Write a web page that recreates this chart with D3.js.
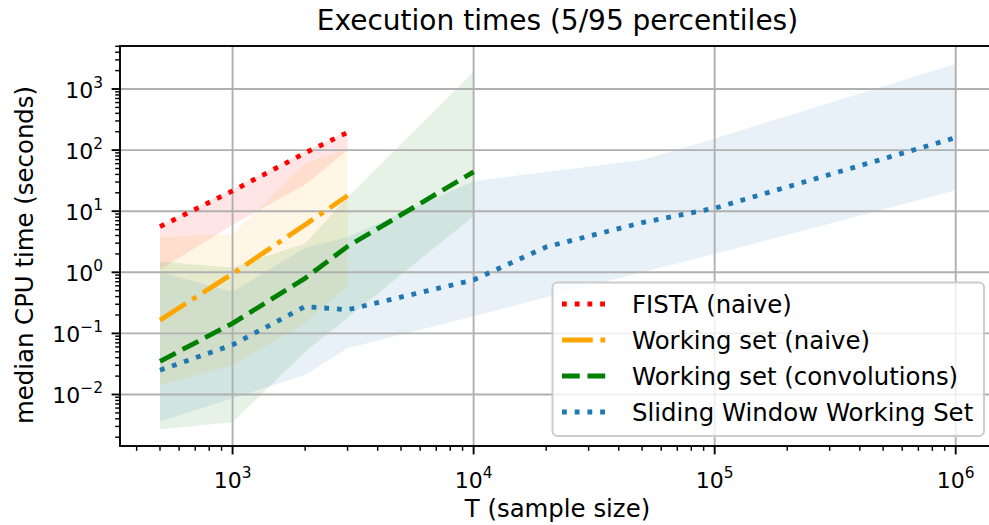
<!DOCTYPE html>
<html><head><meta charset="utf-8">
<script src="https://cdn.jsdelivr.net/npm/d3@7"></script>
<style>
body{margin:0;background:#fff}
svg{display:block;font-family:"DejaVu Sans",sans-serif}
</style>
</head><body>
<svg id="chart" width="989" height="525"></svg>
<script>
// ---- data ----
const fistaT   = [500, 1000, 2000, 3000];
const fistaMed = [5.6, 21.5, 90, 195];
const fistaP95 = [5.9, 23, 95, 205];
const fistaP5  = [1.1, 6, 27, 100];

const wsT   = [500, 1000, 2000, 3000];
const wsMed = [0.165, 0.95, 6.0, 18];
const wsP95 = [3.8, 4.2, 60, 107];
const wsP5  = [0.0143, 0.03, 0.15, 0.6];

const convT   = [500, 1000, 2000, 3000, 10000];
const convMed = [0.035, 0.146, 0.8, 2.65, 44];
const convP95 = [1.5, 1.2, 3.0, 17, 1900];
const convP5  = [0.0027, 0.0035, 0.05, 0.18, 8.3];

const swT   = [500, 1000, 2000, 3000, 10000, 20000, 50000, 100000, 1000000];
const swMed = [0.025, 0.065, 0.275, 0.244, 0.75, 2.6, 6.5, 11.2, 160];
const swP95 = [1.0, 0.48, 2.5, 3.8, 31, 44, 69, 155, 2570];
const swP5  = [0.0036, 0.0087, 0.021, 0.057, 0.19, 0.39, 1.0, 2.0, 22];

const seriesNames = ["FISTA (naive)", "Working set (naive)", "Working set (convolutions)", "Sliding Window Working Set"];
const xTickExps = [3, 4, 5, 6];
const yTickExps = [-2, -1, 0, 1, 2, 3];
const titleText = "Execution times (5/95 percentiles)";
const xLabelText = "T (sample size)";
const yLabelText = "median CPU time (seconds)";

// ---- layout ----
const L = 120, T = 46, R = 995, B = 446;
const svg = d3.select("#chart");
const x = d3.scaleLog().domain([Math.pow(10, 2.533), Math.pow(10, 6.163)]).range([L, R]);
const y = d3.scaleLog().domain([Math.pow(10, -2.843), Math.pow(10, 3.704)]).range([B, T]);

const lw = 4.8;
const series = [
  {name: seriesNames[0], t: fistaT, med: fistaMed, lo: fistaP5, hi: fistaP95, color: "#ff0000", dash: [lw, 1.65*lw]},
  {name: seriesNames[1], t: wsT, med: wsMed, lo: wsP5, hi: wsP95, color: "#ffa500", dash: [6.4*lw, 1.6*lw, 1*lw, 1.6*lw]},
  {name: seriesNames[2], t: convT, med: convMed, lo: convP5, hi: convP95, color: "#008000", dash: [3.7*lw, 1.6*lw]},
  {name: seriesNames[3], t: swT, med: swMed, lo: swP5, hi: swP95, color: "#1f77b4", dash: [lw, 1.65*lw]}
];

svg.append("defs").append("clipPath").attr("id", "plotclip")
  .append("rect").attr("x", L).attr("y", T).attr("width", R - L).attr("height", B - T);

const plot = svg.append("g").attr("clip-path", "url(#plotclip)");

// fills
series.forEach(s => {
  const pts = s.t.map((t, i) => ({t, lo: s.lo[i], hi: s.hi[i]}));
  const area = d3.area().x(d => x(d.t)).y0(d => y(d.lo)).y1(d => y(d.hi));
  plot.append("path").attr("d", area(pts)).attr("fill", s.color).attr("fill-opacity", 0.1);
});

// grid
const gridColor = "#b0b0b0";
xTickExps.forEach(e => {
  plot.append("line").attr("x1", x(Math.pow(10, e))).attr("x2", x(Math.pow(10, e)))
    .attr("y1", T).attr("y2", B).attr("stroke", gridColor).attr("stroke-width", 1.9);
});
yTickExps.forEach(e => {
  plot.append("line").attr("y1", y(Math.pow(10, e))).attr("y2", y(Math.pow(10, e)))
    .attr("x1", L).attr("x2", R).attr("stroke", gridColor).attr("stroke-width", 1.9);
});

// median lines
series.forEach(s => {
  const pts = s.t.map((t, i) => ({t, v: s.med[i]}));
  const line = d3.line().x(d => x(d.t)).y(d => y(d.v));
  plot.append("path").attr("d", line(pts)).attr("fill", "none")
    .attr("stroke", s.color).attr("stroke-width", lw)
    .attr("stroke-dasharray", s.dash.join(",")).attr("stroke-linecap", "butt");
});

// spines
svg.append("rect").attr("x", L).attr("y", T).attr("width", R - L).attr("height", B - T)
  .attr("fill", "none").attr("stroke", "#000").attr("stroke-width", 1.9);

// ticks
const majLen = 8.4, minLen = 4.8;
const ax = svg.append("g");
xTickExps.forEach(e => {
  const px = x(Math.pow(10, e));
  ax.append("line").attr("x1", px).attr("x2", px).attr("y1", B).attr("y2", B + majLen)
    .attr("stroke", "#000").attr("stroke-width", 1.9);
  const t = ax.append("text").attr("x", px).attr("y", 488).attr("text-anchor", "middle")
    .attr("font-size", 22).attr("fill", "#000");
  t.append("tspan").text("10");
  t.append("tspan").attr("font-size", 15.4).attr("dy", -10).text(String(e));
});
for (let e = 2; e <= 6; e++) {
  for (let k = 2; k <= 9; k++) {
    const v = k * Math.pow(10, e);
    const px = x(v);
    if (px < L || px > 989) continue;
    ax.append("line").attr("x1", px).attr("x2", px).attr("y1", B).attr("y2", B + minLen)
      .attr("stroke", "#000").attr("stroke-width", 1.45);
  }
}
yTickExps.forEach(e => {
  const py = y(Math.pow(10, e));
  ax.append("line").attr("x1", L).attr("x2", L - majLen).attr("y1", py).attr("y2", py)
    .attr("stroke", "#000").attr("stroke-width", 1.9);
  const t = ax.append("text").attr("x", 103).attr("y", py + 9).attr("text-anchor", "end")
    .attr("font-size", 22).attr("fill", "#000");
  t.append("tspan").text("10");
  t.append("tspan").attr("font-size", 15.4).attr("dy", -10).text(e < 0 ? "\u2212" + Math.abs(e) : String(e));
});
for (let e = -3; e <= 3; e++) {
  for (let k = 2; k <= 9; k++) {
    const v = k * Math.pow(10, e);
    const py = y(v);
    if (py < T || py > B) continue;
    ax.append("line").attr("x1", L).attr("x2", L - minLen).attr("y1", py).attr("y2", py)
      .attr("stroke", "#000").attr("stroke-width", 1.45);
  }
}

// labels
svg.append("text").attr("x", (L + R) / 2).attr("y", 30).attr("text-anchor", "middle")
  .attr("font-size", 28).attr("fill", "#000").text(titleText);
svg.append("text").attr("x", (L + R) / 2).attr("y", 517).attr("text-anchor", "middle")
  .attr("font-size", 24.4).attr("fill", "#000").text(xLabelText);
svg.append("text").attr("transform", `translate(33,255) rotate(-90)`)
  .attr("text-anchor", "middle").attr("font-size", 24.4).attr("fill", "#000").text(yLabelText);

// legend
const lg = svg.append("g");
lg.append("rect").attr("x", 552.5).attr("y", 282.5).attr("width", 431.5).attr("height", 153.5)
  .attr("rx", 5).attr("fill", "#fff").attr("fill-opacity", 0.8)
  .attr("stroke", "#cccccc").attr("stroke-width", 2);
series.forEach((s, i) => {
  const cy = 304 + i * 36;
  lg.append("line").attr("x1", 562).attr("x2", 606).attr("y1", cy).attr("y2", cy)
    .attr("stroke", s.color).attr("stroke-width", lw)
    .attr("stroke-dasharray", s.dash.join(","));
  lg.append("text").attr("x", 632).attr("y", cy + 8.8).attr("font-size", 24.4).attr("fill", "#000").text(s.name);
});
</script>
</body></html>
